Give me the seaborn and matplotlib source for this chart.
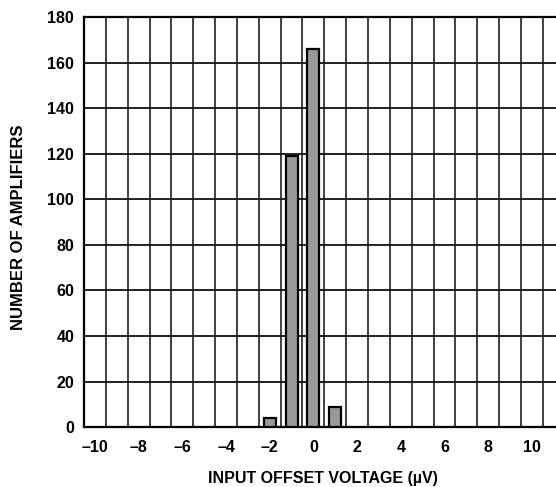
import matplotlib
matplotlib.use("Agg")
import matplotlib.pyplot as plt
from matplotlib.ticker import MultipleLocator, FixedLocator
import numpy as np
import pandas as pd
import seaborn as sns

# Histogram of input offset voltage across amplifiers
offset_uv = [-2, -1, 0, 1]
amplifier_count = [4, 119, 166, 9]
x_tick_values = list(range(-10, 11, 2))
y_tick_values = list(range(0, 181, 20))

df = pd.DataFrame({"offset": offset_uv, "count": amplifier_count})

sns.set_theme(style="white")
plt.rcParams["font.family"] = ["Liberation Sans", "DejaVu Sans"]
plt.rcParams["font.weight"] = "bold"
plt.rcParams["text.color"] = "black"
plt.rcParams["axes.labelcolor"] = "black"

fig = plt.figure(figsize=(5.56, 4.87), dpi=100)
ax = fig.add_axes([0.151, 0.123, 0.849, 0.842])

sns.barplot(data=df, x="offset", y="count", native_scale=True, width=0.55,
            color="#999999", edgecolor="black", linewidth=1.6,
            saturation=1, ax=ax, zorder=3)

ax.set_xlim(-10.5, 11.1)
ax.set_ylim(0, 180)

# Grid cells: vertical lines between integer bins, horizontal every 20
ax.xaxis.set_major_locator(FixedLocator(x_tick_values))
ax.xaxis.set_minor_locator(MultipleLocator(1, offset=0.5))
ax.yaxis.set_major_locator(FixedLocator(y_tick_values))
ax.grid(False)
ax.grid(True, which="minor", axis="x", color="#333333", linewidth=1.3, zorder=1)
ax.grid(True, which="major", axis="y", color="#111111", linewidth=1.3, zorder=1)
ax.set_axisbelow(True)

ax.set_xticklabels([f"{v}".replace("-", "\u2013") for v in x_tick_values],
                   fontsize=11.5, fontweight="bold")
ax.set_yticklabels([str(v) for v in y_tick_values], fontsize=11.5, fontweight="bold")
ax.tick_params(axis="x", which="both", length=0, pad=9, colors="black")
ax.tick_params(axis="y", which="both", length=0, pad=7, colors="black")

for side in ["left", "bottom", "top"]:
    ax.spines[side].set_visible(True)
    ax.spines[side].set_color("black")
    ax.spines[side].set_linewidth(1.6)
ax.spines["right"].set_visible(False)

ax.set_xlabel("")
ax.set_ylabel("")
fig.text(0.581, 1 - 478 / 487, "INPUT OFFSET VOLTAGE (\u00b5V)", fontsize=11.5,
         fontweight="bold", color="black", ha="center", va="center")
fig.text(19 / 556, 1 - 227 / 487, "NUMBER OF AMPLIFIERS", fontsize=12,
         fontweight="bold", color="black", ha="center", va="center",
         rotation=90)

fig.savefig("out.png", dpi=100)
